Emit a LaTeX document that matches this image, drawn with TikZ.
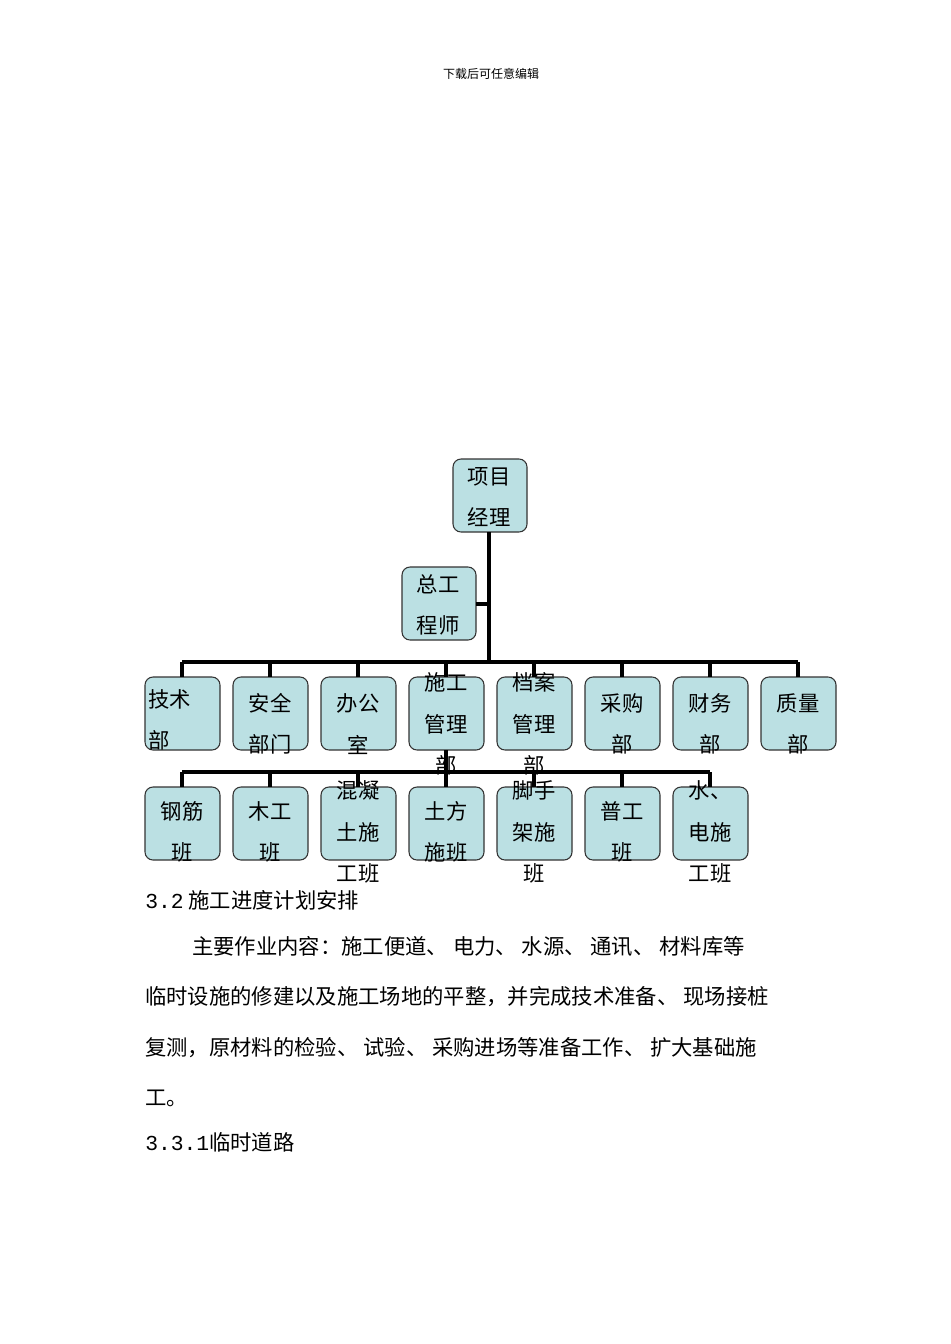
\documentclass[tikz,border=0pt]{standalone}
\usepackage{fontspec}
\setmainfont{Liberation Serif}
\newfontfamily\cjk{Noto Sans CJK SC}
\newfontfamily\monof{Liberation Mono}
\definecolor{boxfill}{RGB}{187,224,227}
\begin{document}
\begin{tikzpicture}[x=0.75pt,y=-0.75pt,
  orgbox/.style={draw=black!80,fill=boxfill,rounded corners=6pt,line width=0.8pt},
  conn/.style={line width=3pt},
  lbl/.style={font=\cjk\fontsize{16}{31}\selectfont,align=center,inner sep=0pt},
  body/.style={font=\cjk\fontsize{16}{20}\selectfont,anchor=west,inner sep=0pt}]
\useasboundingbox (0,0) rectangle (950,1344);
\node[font=\cjk\fontsize{9}{11}\selectfont] (hdr) at (491,74) {下载后可任意编辑};
% boxes
\draw[orgbox] (453,459) rectangle (527,532) coordinate (pmB);
\coordinate (pmb) at (489,532);
\draw[orgbox] (402,567) rectangle (476,640);
\coordinate (cer) at (476,604);
\foreach \i in {0,...,7}{\draw[orgbox] (145+88*\i,677) rectangle (220+88*\i,750);}
\foreach \i in {0,...,6}{\draw[orgbox] (145+88*\i,787) rectangle (220+88*\i,860);}
% connectors
\coordinate (bus1) at (489,662);
\draw[conn] (pmb) -- (bus1);
\draw[conn] (cer) -- (489,604);
\draw[conn] (182,662) -- (798,662);
\foreach \i in {0,...,7}{\draw[conn] (182+88*\i,662) -- (182+88*\i,677);}
\draw[conn] (446,750) -- (446,772);
\draw[conn] (182,772) -- (710,772);
\foreach \i in {0,...,6}{\draw[conn] (182+88*\i,772) -- (182+88*\i,787);}
% labels
\node[lbl] (t0) at (489,497) {项目\\经理};
\node[lbl] (t1) at (438,605) {总工\\程师};
\node[lbl,align=left,anchor=west] (r1) at (148,720) {技术\\部};
\node[lbl] (r2) at (270,724) {安全\\部门};
\node[lbl] (r3) at (358,724) {办公\\室};
\node[lbl] (r4) at (446,724) {施工\\管理\\部};
\node[lbl] (r5) at (534,724) {档案\\管理\\部};
\node[lbl] (r6) at (622,724) {采购\\部};
\node[lbl] (r7) at (710,724) {财务\\部};
\node[lbl] (r8) at (798,724) {质量\\部};
\node[lbl] (s1) at (182,832) {钢筋\\班};
\node[lbl] (s2) at (270,832) {木工\\班};
\node[lbl] (s3) at (358,832) {混凝\\土施\\工班};
\node[lbl] (s4) at (446,832) {土方\\施班};
\node[lbl] (s5) at (534,832) {脚手\\架施\\班};
\node[lbl] (s6) at (622,832) {普工\\班};
\node[lbl] (s7) at (710,832) {水、\\电施\\工班};
% text
\node[body] (h32) at (145,900) {{\monof 3.2} 施工进度计划安排};
\node[body] (p1) at (192,946) {主要作业内容：施工便道、 电力、 水源、 通讯、 材料库等};
\node[body] (p2) at (145,997) {临时设施的修建以及施工场地的平整，并完成技术准备、 现场接桩};
\node[body] (p3) at (145,1048) {复测，原材料的检验、 试验、 采购进场等准备工作、 扩大基础施};
\node[body] (p4) at (145,1098) {工。};
\node[body] (h331) at (145,1142) {{\monof 3.3.1}临时道路};
\end{tikzpicture}
\end{document}
